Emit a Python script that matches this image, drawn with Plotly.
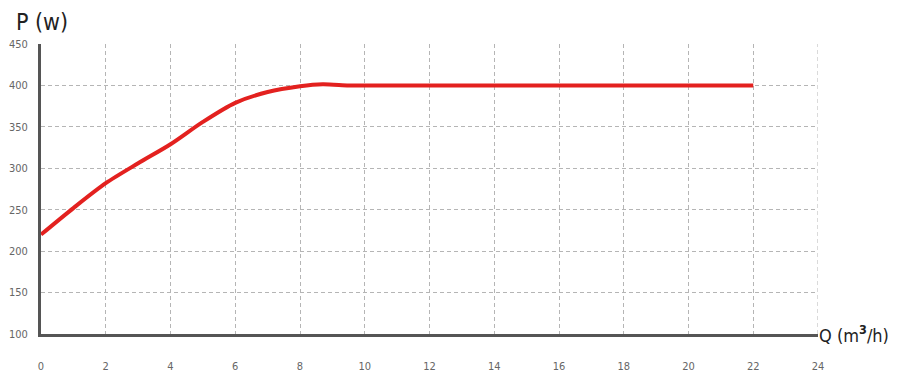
import plotly.graph_objects as go

# power curve
q_flow = [0, 1, 2, 3, 4, 5, 6, 7, 8, 8.7, 9.5, 10, 12, 14, 16, 18, 20, 22]
p_power = [220, 252, 282, 306, 329, 356, 379, 392, 399, 401.5, 400, 400, 400, 400, 400, 400, 400, 400]

x_ticks = list(range(0, 25, 2))
y_ticks = list(range(100, 451, 50))

NARROW = "DejaVu Sans Condensed, Liberation Sans Narrow, Arial Narrow, sans-serif"
GRID_DASH = "4px,3px"

fig = go.Figure()

fig.add_trace(go.Scatter(
    x=q_flow, y=p_power,
    mode="lines",
    line=dict(color="#e3211f", width=4, shape="spline", smoothing=0.8),
    hoverinfo="skip",
))

tick_font = dict(family=NARROW, size=11, color="#666666")

fig.update_xaxes(
    range=[0, 24], tickvals=x_ticks,
    showgrid=True, gridcolor="#b5b5b5", griddash=GRID_DASH, gridwidth=1,
    showline=True, linecolor="#555555", linewidth=3,
    zeroline=False, ticks="", tickfont=tick_font, ticklabelstandoff=20,
    automargin=False,
)
fig.update_yaxes(
    range=[100, 450], tickvals=y_ticks,
    showgrid=True, gridcolor="#b5b5b5", griddash=GRID_DASH, gridwidth=1,
    showline=True, linecolor="#555555", linewidth=3,
    zeroline=False, ticks="", tickfont=tick_font, ticklabelstandoff=8,
    automargin=False,
)

# right border grid line at x=24
fig.add_shape(type="line", xref="x", yref="y", x0=24, x1=24, y0=100, y1=450,
              line=dict(color="#b5b5b5", width=1, dash=GRID_DASH))

fig.add_annotation(
    text="P (w)", xref="paper", yref="paper", x=-0.035, y=1.0,
    xanchor="left", yanchor="bottom", yshift=7, showarrow=False,
    font=dict(family=NARROW, size=23, color="#222222"),
)
fig.add_annotation(
    text="Q (m<b><sup>3</sup></b>/h)", xref="paper", yref="paper", x=1.0, y=0.0,
    xanchor="left", yanchor="middle", xshift=-1, showarrow=False,
    font=dict(family=NARROW, size=18, color="#222222"),
)

# page body has an 8px margin, so the figure is sized and shifted to fit
fig.update_layout(
    width=892, height=377,
    margin=dict(l=33, r=82, t=36, b=51),
    paper_bgcolor="white", plot_bgcolor="white",
    showlegend=False,
)

fig.write_html("out.html")
